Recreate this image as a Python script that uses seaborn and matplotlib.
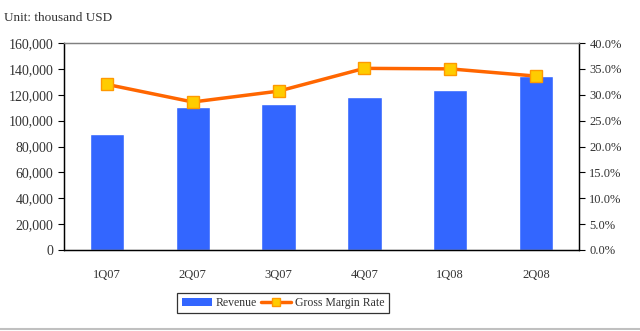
import matplotlib
matplotlib.use("Agg")
import matplotlib.pyplot as plt
import seaborn as sns
import numpy as np
import pandas as pd
from matplotlib.ticker import FuncFormatter, FixedLocator
from matplotlib.lines import Line2D
from matplotlib.patches import Patch

quarters = ["1Q07", "2Q07", "3Q07", "4Q07", "1Q08", "2Q08"]
revenue = [89800, 110500, 112800, 118300, 123800, 134600]
gross_margin = [32.0, 28.6, 30.7, 35.1, 35.0, 33.6]

sns.set_theme(style="white")
plt.rcParams["font.family"] = ["Liberation Serif", "DejaVu Serif"]

df = pd.DataFrame({"quarter": quarters, "revenue": revenue, "gm": gross_margin})

fig = plt.figure(figsize=(6.4, 3.31), dpi=100)
ax = fig.add_axes([64/640, 1-250/331, 515/640, 207/331])

sns.barplot(data=df, x="quarter", y="revenue", color="#3366FF", saturation=1,
            width=0.4, ax=ax, zorder=2)
ax.set_ylim(0, 160000)
ax.set_xlim(-0.5, 5.5)
ax.set_yticks(np.arange(0, 160001, 20000))
ax.yaxis.set_major_formatter(FuncFormatter(lambda v, p: f"{int(v):,}"))
ax.set_xlabel("")
ax.set_ylabel("")

ax2 = ax.twinx()
sns.lineplot(data=df, x="quarter", y="gm", ax=ax2, color="#FF6600", linewidth=2.5,
             marker="s", markersize=8, markerfacecolor="#FFCC00",
             markeredgecolor="#FF9900", markeredgewidth=1, sort=False, zorder=3)
ax2.set_ylim(0, 40)
ax2.set_yticks(np.arange(0, 40.1, 5))
ax2.yaxis.set_major_formatter(FuncFormatter(lambda v, p: f"{v:.1f}%"))
ax2.set_ylabel("")
ax2.set_xlabel("")

# x ticks: labels at centers, tick marks between categories
ax.set_xticks(range(len(quarters)))
ax.set_xticklabels(quarters)
ax.tick_params(axis="x", length=0, pad=14, labelsize=9, colors="#333333")
ax.xaxis.set_minor_locator(FixedLocator(np.arange(0.5, 5.0, 1.0)))
ax.tick_params(axis="x", which="minor", length=4, width=0.8, color="black", direction="out")
ax.tick_params(axis="y", length=4, width=0.8, color="black", direction="out",
               left=True, labelsize=10, labelcolor="#333333")
ax2.tick_params(axis="y", length=4, width=0.8, color="black", direction="out",
                right=True, labelsize=9, labelcolor="#333333")

for a in (ax, ax2):
    a.spines["left"].set_color("black")
    a.spines["bottom"].set_color("black")
    a.spines["right"].set_color("black")
    a.spines["top"].set_color("#808080")
    for s in a.spines.values():
        s.set_linewidth(0.9)
ax.grid(False)
ax2.grid(False)

fig.text(4/640, 1-18/331, "Unit: thousand USD", fontsize=9.5, color="#333333", va="center")

handles = [Patch(facecolor="#3366FF", edgecolor="none"),
           Line2D([0], [0], color="#FF6600", lw=2.5, marker="s", markersize=6,
                  markerfacecolor="#FFCC00", markeredgecolor="#FF9900")]
leg = fig.legend(handles, ["Revenue", "Gross Margin Rate"], loc="center",
                 bbox_to_anchor=(283/640, 1-303/331), ncol=2, frameon=True,
                 fancybox=False, edgecolor="black", fontsize=8.5, handlelength=2.6,
                 handletextpad=0.3, columnspacing=0.3, borderpad=0.35)
leg.get_frame().set_linewidth(0.9)
for t in leg.get_texts():
    t.set_color("#333333")

fig.add_artist(Line2D([0, 1], [1-329/331, 1-329/331], color="#C0C0C0", lw=1.5))

fig.savefig("out.png", dpi=100)
